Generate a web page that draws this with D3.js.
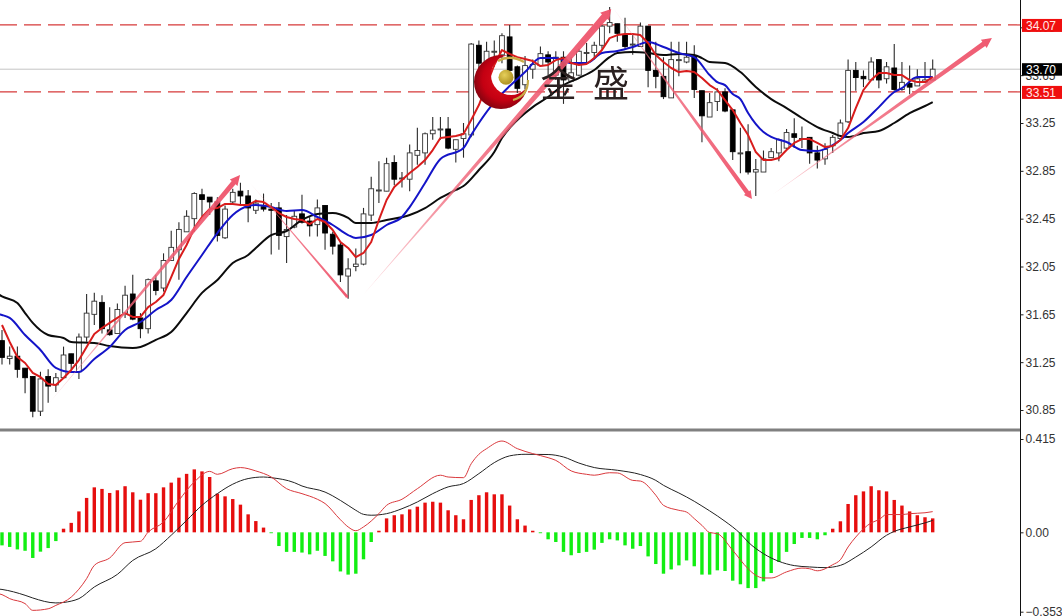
<!DOCTYPE html>
<html><head><meta charset="utf-8">
<script src="https://cdn.jsdelivr.net/npm/d3@7"></script>
<style>html,body{margin:0;padding:0;background:#fff;overflow:hidden}svg{display:block}
text{font-family:"Liberation Sans",sans-serif}</style></head><body><div id="c"></div>
<script>
// ---- Candles (one per bar) ----
const open=[31.43,31.28,31.30,31.20,31.13,30.84,31.13,31.06,31.12,31.32,
31.17,31.46,31.65,31.75,31.52,31.49,31.66,31.82,31.62,31.53,
31.93,31.87,32.10,32.19,32.34,32.45,32.65,32.63,32.59,32.29,
32.59,32.68,32.64,32.52,32.55,32.53,32.54,32.30,32.38,32.49,
32.43,32.40,32.56,32.32,32.23,31.97,32.05,32.07,32.48,32.69,
32.68,32.92,32.79,32.78,32.98,33.00,33.16,33.20,33.20,33.03,
33.12,33.15,33.90,33.72,33.85,33.82,33.97,33.72,33.57,33.70,
33.73,33.82,33.65,33.80,33.60,33.65,33.84,33.84,33.90,34.06,
34.08,33.99,33.91,33.89,34.06,33.69,33.64,33.46,33.78,33.76,
33.81,33.52,33.30,33.43,33.51,33.36,33.00,33.01,32.84,32.84,
32.96,33.00,33.04,33.16,33.12,33.13,33.00,32.95,33.06,33.12,
33.26,33.69,33.64,33.61,33.78,33.62,33.71,33.53,33.58,33.56,
33.59,33.61];
const close=[31.29,31.30,31.19,31.12,30.84,31.11,31.05,31.12,31.31,31.24,
31.46,31.66,31.76,31.53,31.48,31.69,31.81,31.61,31.53,31.94,
31.85,32.10,32.21,32.36,32.47,32.66,32.61,32.59,32.31,32.53,
32.67,32.64,32.54,32.58,32.53,32.52,32.31,32.36,32.47,32.42,
32.39,32.54,32.33,32.22,31.98,32.03,32.07,32.49,32.70,32.69,
32.91,32.78,32.79,33.00,33.02,33.16,33.19,33.20,33.04,33.11,
33.16,33.91,33.75,33.85,33.85,33.98,33.69,33.54,33.73,33.74,
33.83,33.76,33.80,33.61,33.67,33.85,33.84,33.90,34.06,34.09,
34.00,33.89,33.91,34.06,33.69,33.64,33.47,33.78,33.78,33.80,
33.53,33.31,33.42,33.51,33.35,33.01,33.00,32.84,32.86,32.95,
33.01,33.11,33.17,33.13,33.12,33.00,32.94,33.03,33.13,33.25,
33.69,33.63,33.62,33.76,33.61,33.72,33.53,33.59,33.55,33.62,
33.61,33.70];
const high=[31.52,31.38,31.38,31.20,31.13,31.17,31.19,31.16,31.38,31.32,
31.49,31.82,31.83,31.81,31.71,31.74,31.89,31.98,31.66,31.95,
31.98,32.16,32.35,32.42,32.52,32.67,32.70,32.63,32.63,32.56,
32.70,32.75,32.69,32.61,32.66,32.58,32.59,32.48,32.52,32.65,
32.47,32.61,32.56,32.34,32.26,32.12,32.20,32.54,32.80,32.93,
32.96,32.98,32.84,33.07,33.21,33.17,33.30,33.30,33.30,33.11,
33.25,33.92,33.94,33.93,33.94,34.00,34.07,33.73,33.81,33.78,
33.89,33.85,33.85,33.85,33.80,33.87,33.92,33.93,34.07,34.22,
34.08,34.13,33.99,34.09,34.06,33.93,33.80,33.93,33.93,33.93,
33.90,33.52,33.50,33.54,33.54,33.36,33.21,33.24,32.95,33.02,
33.04,33.12,33.20,33.29,33.22,33.13,33.06,33.08,33.15,33.28,
33.78,33.76,33.69,33.80,33.78,33.76,33.91,33.76,33.73,33.70,
33.76,33.78];
const low=[31.23,31.23,31.12,30.99,30.79,30.80,30.91,31.00,31.11,31.19,
31.11,31.42,31.56,31.49,31.47,31.49,31.62,31.60,31.45,31.49,
31.81,31.84,32.10,31.94,32.34,32.34,32.47,32.48,32.26,32.28,
32.58,32.56,32.42,32.49,32.51,32.15,32.19,32.08,32.37,32.41,
32.30,32.30,32.19,32.15,31.92,31.78,32.01,32.06,32.43,32.58,
32.68,32.73,32.71,32.68,32.90,32.90,33.11,33.11,33.03,32.92,
32.96,33.13,33.69,33.66,33.72,33.75,33.68,33.50,33.53,33.62,
33.73,33.65,33.61,33.41,33.60,33.64,33.75,33.78,33.87,34.00,
33.93,33.87,33.82,33.89,33.55,33.54,33.45,33.46,33.64,33.75,
33.46,33.09,33.30,33.35,33.34,32.94,32.83,32.82,32.64,32.84,
32.96,32.93,33.03,33.04,33.04,32.91,32.87,32.90,33.00,33.11,
33.25,33.52,33.55,33.61,33.54,33.58,33.52,33.52,33.49,33.56,
33.59,33.61];

// ---- Moving averages ----
const maFast=[31.561,31.419,31.293,31.243,31.160,31.126,31.068,31.059,31.118,31.185,
31.268,31.377,31.486,31.536,31.578,31.620,31.661,31.628,31.628,31.711,
31.753,31.812,31.962,32.113,32.230,32.372,32.464,32.531,32.539,32.573,
32.573,32.564,32.564,32.598,32.589,32.547,32.497,32.464,32.447,32.439,
32.405,32.447,32.422,32.355,32.255,32.205,32.129,32.163,32.255,32.439,
32.606,32.715,32.773,32.832,32.882,32.940,33.024,33.124,33.133,33.141,
33.158,33.275,33.400,33.567,33.735,33.860,33.827,33.801,33.785,33.768,
33.726,33.735,33.776,33.793,33.751,33.735,33.743,33.793,33.860,33.960,
33.985,33.994,33.994,33.985,33.919,33.818,33.760,33.710,33.676,33.684,
33.676,33.626,33.567,33.526,33.442,33.358,33.250,33.149,33.007,32.940,
32.940,32.957,33.024,33.083,33.116,33.116,33.083,33.049,33.057,33.108,
33.208,33.375,33.526,33.609,33.668,33.668,33.651,33.651,33.609,33.592,
33.592,33.634];
const maMidBars=[-1,0,1,3,5,7,9,10,12,14,16,18,20,22,24,26,28,30,32,33,35,37,39,41,43,45,46,48,50,52,53,55,57,60,61,62,64,66,68,70,72,74,76,78,80,82,84,86,88,90,92,93,94,95,96,97,99,100,102,104,106,108,109,110,112,114,116,117,119,121];
const maMid=[31.66,31.645,31.620,31.477,31.352,31.202,31.168,31.168,31.277,31.377,31.519,31.586,31.686,31.770,31.962,32.146,32.330,32.481,32.556,32.564,32.547,32.514,32.522,32.464,32.397,32.313,32.288,32.313,32.397,32.464,32.547,32.748,32.949,33.041,33.149,33.250,33.425,33.559,33.676,33.793,33.793,33.751,33.751,33.835,33.852,33.885,33.927,33.885,33.835,33.801,33.651,33.592,33.567,33.492,33.450,33.333,33.174,33.133,33.091,33.024,33.016,33.066,33.108,33.166,33.258,33.383,33.509,33.542,33.634,33.634];
const maSlowBars=[-1,0,2,3,4,6,8,9,12,14,17,18,20,22,24,26,28,30,32,33,35,37,39,41,43,45,46,48,50,53,55,57,59,60,62,64,65,67,69,71,73,75,77,79,80,82,84,86,88,90,91,92,94,96,98,100,102,104,106,108,109,110,112,114,116,118,120,121];
const maSlow=[31.84,31.80,31.745,31.661,31.578,31.477,31.452,31.419,31.411,31.385,31.369,31.377,31.436,31.502,31.661,31.829,31.937,32.079,32.146,32.205,32.313,32.347,32.439,32.489,32.497,32.456,32.414,32.414,32.439,32.481,32.539,32.623,32.690,32.723,32.857,33.007,33.124,33.275,33.383,33.467,33.567,33.626,33.693,33.801,33.835,33.843,33.835,33.818,33.827,33.818,33.793,33.760,33.751,33.676,33.551,33.450,33.375,33.292,33.216,33.166,33.141,33.133,33.166,33.183,33.250,33.333,33.392,33.425];

// ---- MACD histogram (one per bar) ----
const hist=[-.058,-.065,-.076,-.082,-.114,-.086,-.070,-.039,.016,.042,.093,.153,.200,.193,.175,.187,.205,.178,.145,.174,
.174,.200,.221,.243,.260,.280,.271,.246,.172,.160,.148,.123,.080,.050,.021,-.004,-.061,-.087,-.087,-.090,
-.098,-.082,-.105,-.129,-.174,-.188,-.184,-.120,-.043,.007,.062,.076,.080,.102,.114,.132,.136,.132,.098,.076,
.058,.144,.165,.178,.169,.169,.119,.058,.030,.007,-.004,-.031,-.043,-.087,-.102,-.092,-.087,-.077,-.047,-.031,
-.036,-.058,-.073,-.061,-.107,-.141,-.184,-.165,-.147,-.125,-.151,-.188,-.188,-.169,-.172,-.215,-.231,-.248,-.248,-.218,
-.181,-.132,-.087,-.052,-.025,-.025,-.031,-.013,.016,.049,.126,.165,.182,.205,.187,.182,.144,.119,.093,.076,.067,.062];
const macdBars=[-1,0,1,3,4,6,7,9,11,12,14,16,18,19,21,23,25,27,28,30,31,33,35,37,39,41,42,44,45,46,47,49,50,52,54,57,58,60,61,62,63,65,67,69,71,72,74,76,77,79,80,82,83,85,86,88,89,90,91,92,93,95,97,98,99,100,102,104,105,106,108,109,110,111,113,114,115,117,118,120,121];
const macd=[-.27,-.277,-.295,-.317,-.347,-.340,-.325,-.288,-.206,-.147,-.114,-.046,-.040,.001,.046,.142,.224,.271,.258,.283,.288,.273,.246,.194,.172,.147,.128,.056,.024,.007,.024,.083,.120,.147,.194,.254,.246,.243,.305,.347,.372,.406,.372,.350,.332,.320,.273,.258,.254,.265,.264,.231,.228,.165,.120,.098,.090,.061,.031,-.001,-.006,-.080,-.162,-.191,-.203,-.203,-.176,-.159,-.162,-.171,-.144,-.122,-.065,-.021,.042,.056,.079,.079,.083,.087,.092];
const signalBars=[-1,0,3,4,7,9,10,12,15,17,20,22,24,26,28,30,32,34,35,38,39,42,43,45,46,47,48,50,52,54,56,58,60,62,64,65,66,68,71,73,75,77,80,83,85,86,88,90,91,93,94,96,97,99,101,103,105,107,109,111,113,115,116,118,120,121];
const signal=[-.25,-.254,-.280,-.292,-.314,-.306,-.295,-.243,-.187,-.125,-.073,-.013,.053,.120,.172,.214,.239,.246,.243,.221,.206,.179,.162,.120,.098,.080,.076,.083,.105,.135,.172,.202,.217,.261,.310,.328,.340,.347,.346,.335,.308,.288,.276,.257,.231,.209,.175,.138,.117,.073,.049,-.006,-.043,-.095,-.129,-.148,-.154,-.157,-.147,-.110,-.065,-.013,.004,.024,.042,.053];

// ---- Axis labels and levels ----
const priceTicks=[30.85,31.25,31.65,32.05,32.45,32.85,33.25,33.65,34.05];
const macdTicks=[0.415,0,-0.353];
const dashedLevels=[34.07,33.51];
const lastPrice=33.70;
// ---- Hand-drawn trend arrows: [bar, price] tail -> tip, thickness and head size ----
const arrowFrom=[[6.24,30.917],[32.25,32.748],[46.94,31.812],[79.45,34.211],[100.1,32.648]];
const arrowTo=[[30.95,32.815],[45,31.787],[79.2,34.203],[97.5,32.614],[128.7,33.96]];
const arrowWidth=[5,2.6,7,4.5,5];
const arrowHead=[2.5,0.6,2.5,2,2.5];

const W=1062,H=616,axisX=1020.5;
const svg=d3.select('#c').append('svg').attr('width',W).attr('height',H);
const defs=svg.append('defs');
const x=d3.scaleLinear().domain([0,121]).range([2,932.7]);
const y=d3.scaleLinear().domain([33.25,30.85]).range([123,410]);
const m=d3.scaleLinear().domain([0.415,-0.353]).range([439,611.7]);

const chart=svg.append('g').style('filter','blur(0.4px)');

// reference lines
chart.append('line').attr('x1',0).attr('x2',axisX).attr('y1',y(lastPrice)).attr('y2',y(lastPrice)).attr('stroke','#c4c4c4');
chart.selectAll('.lvl').data(dashedLevels).join('line').attr('x1',0).attr('x2',axisX)
 .attr('y1',d=>y(d)).attr('y2',d=>y(d)).attr('stroke','#d63a3a').attr('stroke-width',1.2).attr('stroke-dasharray','17,7');

// candles
const bars=d3.range(open.length);
const c=chart.append('g');
c.selectAll('.w').data(bars).join('line').attr('x1',i=>x(i)).attr('x2',i=>x(i))
 .attr('y1',i=>y(high[i])).attr('y2',i=>y(low[i])).attr('stroke','#2a2a2a').attr('stroke-width',1.1);
c.selectAll('.b').data(bars).join('rect').attr('x',i=>x(i)-2.4).attr('width',4.8)
 .attr('y',i=>y(Math.max(open[i],close[i])))
 .attr('height',i=>Math.max(1,Math.abs(y(open[i])-y(close[i]))))
 .attr('fill',i=>close[i]>=open[i]?'#fff':'#000').attr('stroke',i=>close[i]>=open[i]?'#333':'#000').attr('stroke-width',.9);

// moving averages
const priceLine=d3.line().x(d=>x(d[0])).y(d=>y(d[1]));
const smoothPrice=d3.line().x(d=>x(d[0])).y(d=>y(d[1])).curve(d3.curveMonotoneX);
const addMa=(gen,xs,vs,col)=>chart.append('path').attr('d',gen(xs.map((b,k)=>[b,vs[k]])))
 .attr('fill','none').attr('stroke',col).attr('stroke-width',2).attr('stroke-linejoin','round');
addMa(smoothPrice,maSlowBars,maSlow,'#0c0c0c');
addMa(smoothPrice,maMidBars,maMid,'#1414c8');
addMa(priceLine,bars,maFast,'#d81c1c');

// arrows
const arrows=chart.append('g');
arrowFrom.forEach((f,k)=>{
 const x0=x(f[0]),y0=y(f[1]),x1=x(arrowTo[k][0]),y1=y(arrowTo[k][1]),w=arrowWidth[k];
 const L=Math.hypot(x1-x0,y1-y0),ux=(x1-x0)/L,uy=(y1-y0)/L,nx=-uy,ny=ux,h=arrowHead[k]*4,hw=w/2+arrowHead[k];
 const bx=x1-ux*h,by=y1-uy*h;
 const g=defs.append('linearGradient').attr('id','ar'+k).attr('gradientUnits','userSpaceOnUse')
  .attr('x1',x0).attr('y1',y0).attr('x2',x1).attr('y2',y1);
 g.append('stop').attr('offset',0).attr('stop-color','#f4909c').attr('stop-opacity',.3);
 g.append('stop').attr('offset',.35).attr('stop-color','#f0667a').attr('stop-opacity',.8);
 g.append('stop').attr('offset',1).attr('stop-color','#ee5068').attr('stop-opacity',.95);
 const pts=[[x0,y0],[bx+nx*w/2,by+ny*w/2],[bx+nx*hw,by+ny*hw],[x1,y1],[bx-nx*hw,by-ny*hw],[bx-nx*w/2,by-ny*w/2]];
 arrows.append('polygon').attr('points',pts.map(p=>p.join(',')).join(' ')).attr('fill','url(#ar'+k+')');
});

// logo
const rg=defs.append('radialGradient').attr('id','logoRed').attr('cx','.55').attr('cy','.45').attr('r','.6');
rg.append('stop').attr('offset',0).attr('stop-color','#e0101c');
rg.append('stop').attr('offset',.65).attr('stop-color','#c40012');
rg.append('stop').attr('offset',1).attr('stop-color','#7a0410');
const gg=defs.append('radialGradient').attr('id','logoGold').attr('cx','.4').attr('cy','.35').attr('r','.7');
gg.append('stop').attr('offset',0).attr('stop-color','#e6cf5a');
gg.append('stop').attr('offset',1).attr('stop-color','#a98c1c');
const mask=defs.append('mask').attr('id','crescent');
mask.append('rect').attr('width',W).attr('height',H).attr('fill','#fff');
mask.append('circle').attr('cx',511).attr('cy',75).attr('r',20).attr('fill','#000');
const logo=chart.append('g');
logo.append('circle').attr('cx',501).attr('cy',82).attr('r',27).attr('fill','url(#logoRed)').attr('mask','url(#crescent)');
logo.append('circle').attr('cx',506).attr('cy',77.3).attr('r',7.5).attr('fill','url(#logoGold)');
logo.append('path').attr('d','M498 61 Q510 54 524 62').attr('fill','none').attr('stroke','#c8ac48').attr('stroke-width',2.4);
logo.append('path').attr('d','M528 80 Q528 96 513 100').attr('fill','none').attr('stroke','#c8ac48').attr('stroke-width',2.2);
logo.selectAll('.t').data(['金','盛']).join('text').attr('x',(d,i)=>i?611:558.5).attr('y',97)
 .attr('text-anchor','middle').attr('font-size',36).attr('fill','#2a2020')
 .style('font-family','"Noto Sans CJK SC"').text(d=>d);

// MACD
chart.selectAll('.h').data(bars).join('rect').attr('x',i=>x(i)-1.7).attr('width',3.4)
 .attr('y',i=>Math.min(m(0),m(hist[i]))).attr('height',i=>Math.abs(m(hist[i])-m(0)))
 .attr('fill',i=>hist[i]>=0?'#e60e0e':'#12ee12');
const macdLine=d3.line().x(d=>x(d[0])).y(d=>m(d[1])).curve(d3.curveMonotoneX);
chart.append('path').attr('d',macdLine(signalBars.map((b,k)=>[b,signal[k]]))).attr('fill','none').attr('stroke','#222').attr('stroke-width',1);
chart.append('path').attr('d',macdLine(macdBars.map((b,k)=>[b,macd[k]]))).attr('fill','none').attr('stroke','#d9383c').attr('stroke-width',1);

// separator
svg.append('rect').attr('x',0).attr('y',428.5).attr('width',axisX).attr('height',3).attr('fill','#808080');

// axes
const style=g=>{g.selectAll('text').attr('fill','#333').attr('font-size',12).attr('x',5);g.selectAll('line').attr('stroke','#222');g.select('.domain').remove();};
svg.append('line').attr('x1',axisX).attr('x2',axisX).attr('y1',0).attr('y2',H).attr('stroke','#111');
svg.append('g').attr('transform',`translate(${axisX},0)`).call(d3.axisRight(y).tickValues(priceTicks).tickSize(3).tickFormat(d3.format('.2f'))).call(style);
svg.append('g').attr('transform',`translate(${axisX},0)`).call(d3.axisRight(m).tickValues(macdTicks).tickSize(3).tickFormat(d=>d===0?'0.00':d3.format('.3f')(d))).call(style);

// price flags
const flags=[{v:34.07,bg:'#f00f0f',fg:'#ffe8e8',h:13},{v:33.51,bg:'#f00f0f',fg:'#ffe8e8',h:13},{v:33.70,bg:'#000',fg:'#fff',h:12.5}];
const f=svg.selectAll('.flag').data(flags).join('g');
f.append('rect').attr('x',1022).attr('width',40).attr('y',d=>y(d.v)-6).attr('height',d=>d.h).attr('fill',d=>d.bg);
f.append('text').attr('x',1026).attr('y',d=>y(d.v)+4.7).attr('font-size',12).attr('fill',d=>d.fg).text(d=>d.v.toFixed(2));
</script></body></html>
